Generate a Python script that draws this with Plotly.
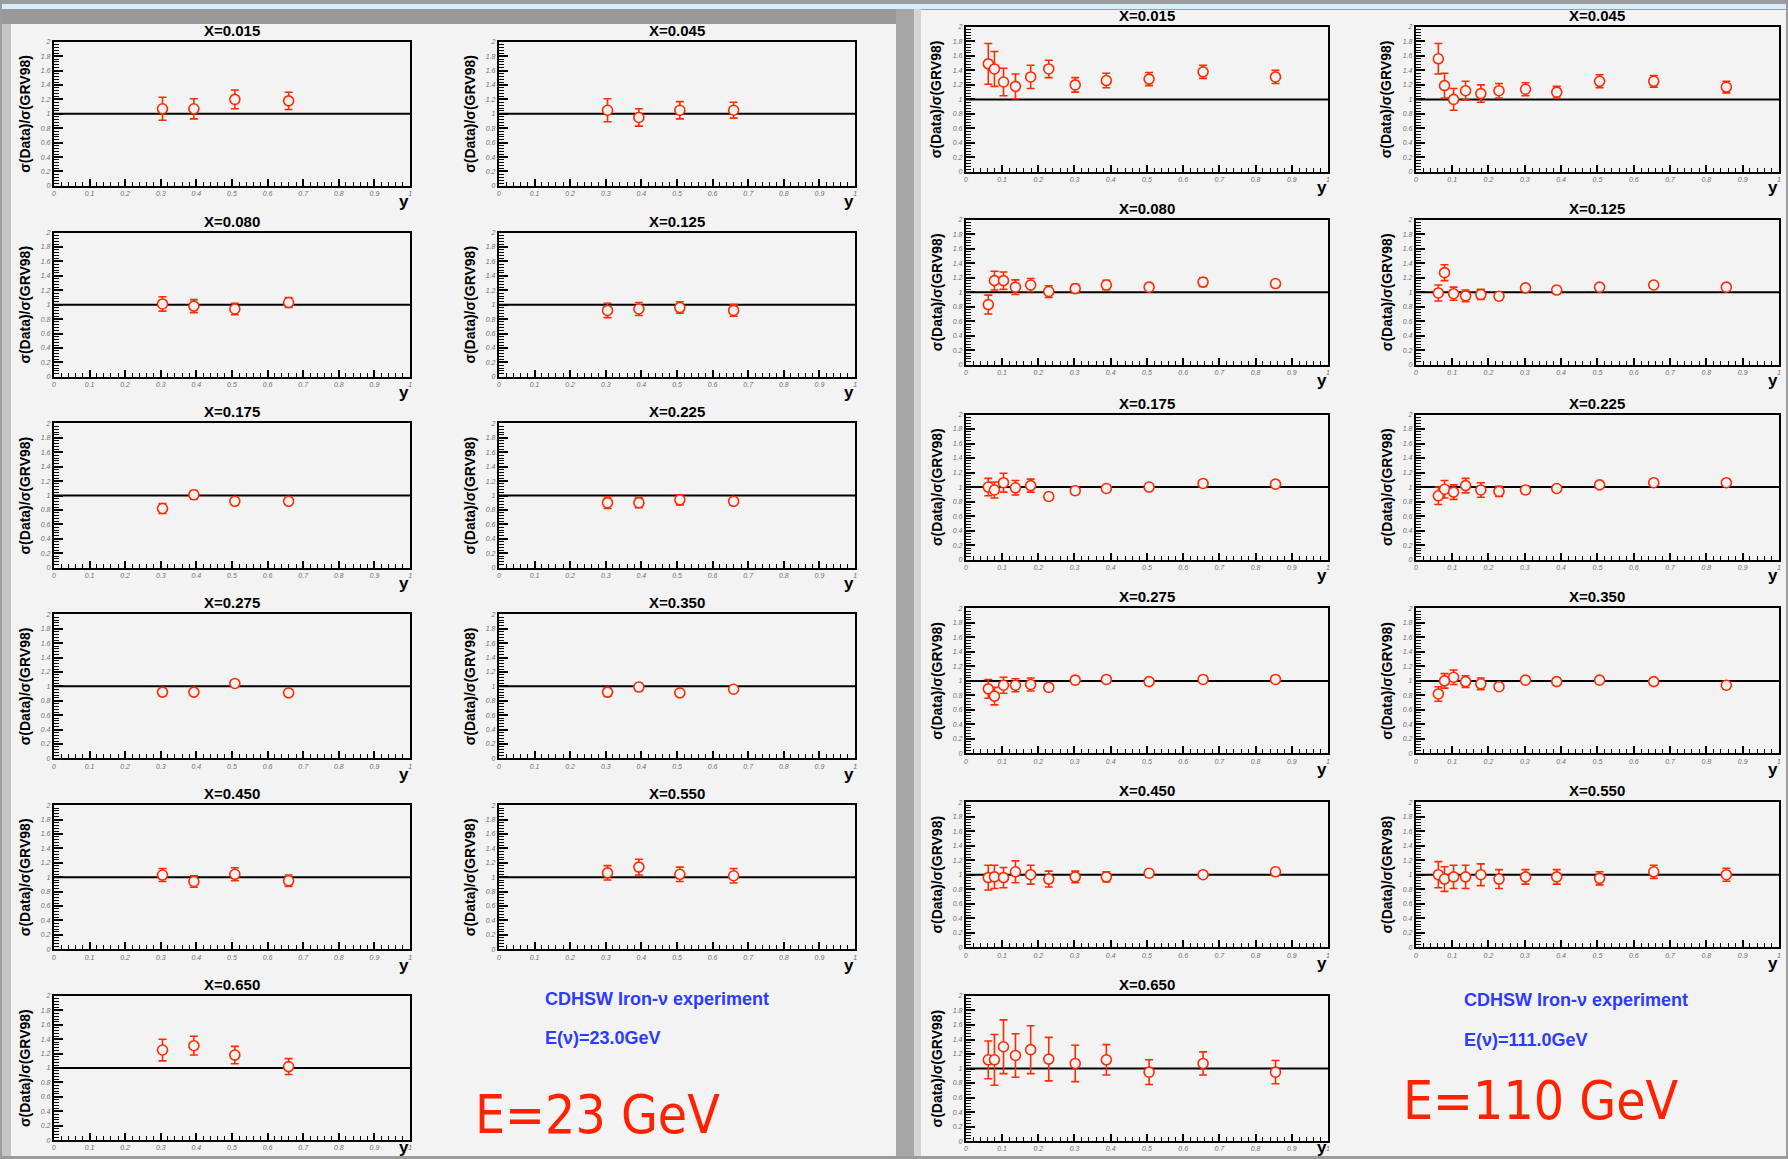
import plotly.graph_objects as go

W, H = 1788, 1159

# ---------------- data ----------------
x_bin_labels = ["X=0.015", "X=0.045", "X=0.080", "X=0.125", "X=0.175", "X=0.225",
                "X=0.275", "X=0.350", "X=0.450", "X=0.550", "X=0.650"]

y_points_e23 = [0.305, 0.393, 0.508, 0.659]
y_points_e111 = [0.062, 0.079, 0.104, 0.137, 0.179, 0.229, 0.302, 0.388, 0.506, 0.655, 0.855]

ratio_e23 = [
    [1.07, 1.07, 1.20, 1.18],
    [1.05, 0.95, 1.05, 1.05],
    [1.01, 0.98, 0.94, 1.03],
    [0.92, 0.94, 0.96, 0.92],
    [0.82, 1.01, 0.92, 0.92],
    [0.90, 0.90, 0.94, 0.92],
    [0.92, 0.92, 1.04, 0.91],
    [0.92, 0.99, 0.91, 0.96],
    [1.03, 0.94, 1.04, 0.95],
    [1.06, 1.14, 1.04, 1.02],
    [1.25, 1.31, 1.18, 1.02],
]
err_e23 = [
    [0.16, 0.14, 0.13, 0.12],
    [0.16, 0.12, 0.12, 0.11],
    [0.10, 0.09, 0.08, 0.07],
    [0.10, 0.09, 0.08, 0.08],
    [0.07, 0.06, 0.04, 0.04],
    [0.08, 0.07, 0.07, 0.04],
    [0.05, 0.04, 0.04, 0.04],
    [0.06, 0.05, 0.04, 0.04],
    [0.09, 0.08, 0.09, 0.08],
    [0.10, 0.11, 0.10, 0.10],
    [0.15, 0.13, 0.12, 0.11],
]

ratio_e111 = [
    [1.49, 1.42, 1.24, 1.18, 1.31, 1.42, 1.20, 1.26, 1.28, 1.38, 1.31],
    [1.56, 1.19, 1.00, 1.12, 1.08, 1.12, 1.14, 1.10, 1.25, 1.25, 1.17],
    [0.83, 1.16, 1.16, 1.07, 1.10, 1.01, 1.05, 1.10, 1.07, 1.14, 1.12],
    [0.99, 1.27, 0.98, 0.95, 0.97, 0.945, 1.06, 1.03, 1.07, 1.10, 1.07],
    [1.00, 0.96, 1.06, 0.99, 1.02, 0.87, 0.95, 0.98, 1.00, 1.05, 1.04],
    [0.88, 0.97, 0.93, 1.02, 0.96, 0.94, 0.96, 0.98, 1.03, 1.06, 1.06],
    [0.89, 0.79, 0.94, 0.94, 0.95, 0.91, 1.01, 1.02, 0.99, 1.02, 1.02],
    [0.82, 1.00, 1.05, 0.99, 0.96, 0.92, 1.01, 0.99, 1.01, 0.99, 0.94],
    [0.96, 0.97, 0.96, 1.04, 1.00, 0.94, 0.97, 0.97, 1.02, 1.00, 1.04],
    [1.00, 0.94, 0.97, 0.97, 1.00, 0.94, 0.97, 0.97, 0.95, 1.04, 1.00],
    [1.12, 1.12, 1.30, 1.18, 1.26, 1.13, 1.07, 1.12, 0.95, 1.07, 0.95],
]
err_e111 = [
    [0.28, 0.24, 0.19, 0.17, 0.16, 0.12, 0.10, 0.10, 0.09, 0.09, 0.09],
    [0.21, 0.17, 0.15, 0.13, 0.12, 0.10, 0.09, 0.08, 0.09, 0.08, 0.08],
    [0.13, 0.13, 0.12, 0.10, 0.09, 0.08, 0.06, 0.065, 0.05, 0.06, 0.04],
    [0.11, 0.11, 0.09, 0.08, 0.07, 0.05, 0.04, 0.05, 0.04, 0.04, 0.04],
    [0.12, 0.11, 0.13, 0.10, 0.09, 0.05, 0.05, 0.04, 0.04, 0.04, 0.04],
    [0.12, 0.12, 0.10, 0.10, 0.10, 0.07, 0.05, 0.04, 0.04, 0.04, 0.04],
    [0.13, 0.12, 0.11, 0.09, 0.09, 0.05, 0.05, 0.04, 0.04, 0.04, 0.04],
    [0.10, 0.10, 0.10, 0.08, 0.08, 0.05, 0.04, 0.04, 0.04, 0.04, 0.05],
    [0.17, 0.16, 0.14, 0.15, 0.13, 0.11, 0.08, 0.07, 0.05, 0.04, 0.05],
    [0.18, 0.17, 0.16, 0.16, 0.15, 0.13, 0.10, 0.10, 0.09, 0.09, 0.09],
    [0.26, 0.35, 0.37, 0.30, 0.33, 0.30, 0.25, 0.21, 0.17, 0.16, 0.16],
]

ref_line_x = [0, 1]
ref_line_y = [1, 1]

experiment_label = "CDHSW Iron-ν experiment"
energy_labels = ["E(ν)=23.0GeV", "E(ν)=111.0GeV"]
big_labels = ["E=23 GeV", "E=110 GeV"]
y_title = "σ(Data)/σ(GRV98)"

# ---------------- layout helpers ----------------
def fx(p):
    return p / W

def fy(p):
    return 1 - p / H

RED = "#ff2a00"
BG = "#f3f3f3"
FONT = "Liberation Sans, Arial, sans-serif"

panels = [
    dict(ybins=y_points_e23, ratios=ratio_e23, errs=err_e23,
         lefts=[52, 498], rights=[409, 855],
         tops=[38, 230, 422, 614, 806, 998], h=145,
         txt_x=542, txt_y=[1001, 1040], big_x=597, big_y=1117,
         energy=energy_labels[0], big=big_labels[0]),
    dict(ybins=y_points_e111, ratios=ratio_e111, errs=err_e111,
         lefts=[966, 1417], rights=[1329, 1781],
         tops=[23, 217, 413, 608, 803, 998], h=146,
         txt_x=1463, txt_y=[1002, 1042], big_x=1542, big_y=1103,
         energy=energy_labels[1], big=big_labels[1]),
]

fig = go.Figure()
layout_axes = {}
annotations = []
n = 0
for p in panels:
    for k, lab in enumerate(x_bin_labels):
        n += 1
        row, col = divmod(k, 2)
        L, R = p["lefts"][col], p["rights"][col]
        T = p["tops"][row]
        B = T + p["h"]
        xs = "x" if n == 1 else f"x{n}"
        ys = "y" if n == 1 else f"y{n}"
        xa = "xaxis" if n == 1 else f"xaxis{n}"
        ya = "yaxis" if n == 1 else f"yaxis{n}"
        tickfont = dict(size=7, color="#707070", family=FONT, style="italic")
        layout_axes[xa] = dict(
            domain=[fx(L), fx(R)], range=[0, 1], anchor=ys,
            showline=True, linecolor="black", linewidth=2, mirror=True,
            ticks="inside", ticklen=7, tickwidth=1.5, tickcolor="black",
            tick0=0, dtick=0.1, showgrid=False, zeroline=False,
            minor=dict(dtick=0.02, ticks="inside", ticklen=4, tickcolor="black",
                       tickwidth=1, showgrid=False),
            tickfont=tickfont, fixedrange=True,
        )
        layout_axes[ya] = dict(
            domain=[fy(B), fy(T)], range=[0, 2], anchor=xs,
            showline=True, linecolor="black", linewidth=2, mirror=True,
            ticks="inside", ticklen=9, tickwidth=1.5, tickcolor="black",
            tick0=0, dtick=0.2, showgrid=False, zeroline=False,
            minor=dict(dtick=0.04, ticks="inside", ticklen=5, tickcolor="black",
                       tickwidth=1, showgrid=False),
            tickfont=tickfont, fixedrange=True,
        )
        # reference line at 1
        fig.add_trace(go.Scatter(x=ref_line_x, y=ref_line_y, mode="lines",
                                 line=dict(color="black", width=2),
                                 xaxis=xs, yaxis=ys, showlegend=False,
                                 hoverinfo="skip"))
        # data points
        fig.add_trace(go.Scatter(
            x=p["ybins"], y=p["ratios"][k], mode="markers",
            marker=dict(symbol="circle", size=10, color=BG,
                        line=dict(color=RED, width=1.6)),
            error_y=dict(type="data", array=p["errs"][k], color=RED,
                         thickness=1.6, width=4),
            xaxis=xs, yaxis=ys, showlegend=False,
        ))
        # title
        annotations.append(dict(text=f"<b>{lab}</b>", x=fx((L + R) / 2), y=fy(T - 1),
                                xref="paper", yref="paper", xanchor="center",
                                yanchor="bottom", showarrow=False,
                                font=dict(size=15, color="black", family=FONT)))
        # y-axis title
        annotations.append(dict(text=f"<b>{y_title}</b>", x=fx(L - 29), y=fy((T + B) / 2),
                                xref="paper", yref="paper", xanchor="center",
                                yanchor="middle", textangle=-90, showarrow=False,
                                font=dict(size=14, color="black", family=FONT)))
        # x-axis title "y" (kept inside the page on the last row)
        y_lab = min(B + 16, H - 9)
        annotations.append(dict(text="<b>y</b>", x=fx(R - 6), y=fy(y_lab),
                                xref="paper", yref="paper", xanchor="center",
                                yanchor="middle", showarrow=False,
                                font=dict(size=17, color="black", family=FONT)))
    # panel texts
    annotations.append(dict(text=f"<b>{experiment_label}</b>", x=fx(p["txt_x"]),
                            y=fy(p["txt_y"][0]), xref="paper", yref="paper",
                            xanchor="left", yanchor="middle", showarrow=False,
                            font=dict(size=18, color="#2b3bff", family=FONT)))
    annotations.append(dict(text=f"<b>{p['energy']}</b>", x=fx(p["txt_x"]),
                            y=fy(p["txt_y"][1]), xref="paper", yref="paper",
                            xanchor="left", yanchor="middle", showarrow=False,
                            font=dict(size=18, color="#2b3bff", family=FONT)))
    annotations.append(dict(text=p["big"], x=fx(p["big_x"]), y=fy(p["big_y"]),
                            xref="paper", yref="paper", xanchor="center",
                            yanchor="middle", showarrow=False,
                            font=dict(size=53, color="#ff2200",
                                      family="Liberation Sans Narrow, DejaVu Sans Condensed, Liberation Sans, Arial")))

def rect(x0, y0, x1, y1, color):
    return dict(type="rect", xref="paper", yref="paper", x0=fx(x0), x1=fx(x1),
                y0=fy(y1), y1=fy(y0), fillcolor=color, line=dict(width=0),
                layer="below")

shapes = [
    rect(0, 0, W, 5, "#d6eefb"),
    rect(0, 5, 897, 20, "#999999"),
    rect(0, 20, 9, H, "#c4c4c4"),
    rect(9, 20, 896, H, BG),
    rect(896, 5, 914, H, "#a6a6a6"),
    rect(914, 5, 921, H, "#d4d4d4"),
    rect(921, 6, W, H, BG),
]

fig.update_layout(
    width=W, height=H, autosize=False,
    margin=dict(l=0, r=0, t=0, b=0),
    paper_bgcolor="#9c9c9c", plot_bgcolor=BG,
    showlegend=False, annotations=annotations, shapes=shapes,
    **layout_axes,
)

fig.write_html("out.html",
               config={"displayModeBar": False},
               post_script="document.body.style.margin='0';document.body.style.overflow='hidden';")
